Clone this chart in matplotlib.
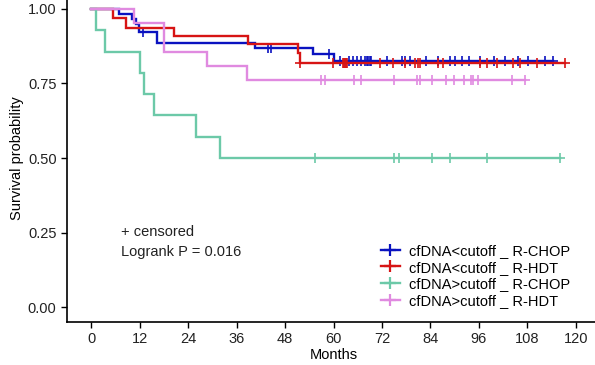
import numpy as np
import matplotlib
matplotlib.use("Agg")
import matplotlib.pyplot as plt
from matplotlib.lines import Line2D

plt.rcParams["font.family"] = ["Liberation Sans", "DejaVu Sans"]

# step curves: event times (months) and survival after each step
blue_t = [0, 6.9, 10.0, 11.0, 11.8, 16.3, 40.6, 55.0, 60.2, 114.4]
blue_s = [1.0, 0.983, 0.966, 0.948, 0.924, 0.885, 0.870, 0.848, 0.825, 0.825]
blue_cens = [12.8, 43.9, 44.4, 59.0, 61.5, 63.9, 64.9, 65.8, 66.8, 67.8, 68.3, 68.6, 69.0, 69.4,
             73.2, 76.9, 77.7, 79.0, 82.9, 86.0, 88.8, 90.1, 91.8, 93.6, 96.3, 99.8,
             102.5, 105.8, 108.2, 112.4, 114.4]

red_t = [0, 5.5, 8.7, 20.4, 38.8, 51.2, 51.7, 117.3]
red_s = [1.0, 0.969, 0.937, 0.909, 0.881, 0.851, 0.819, 0.819]
red_cens = [51.7, 59.8, 62.4, 62.7, 62.9, 63.2, 63.4, 71.4, 74.8, 77.7, 80.2, 80.9, 81.4,
            86.0, 87.2, 96.3, 97.9, 100.4, 104.5, 106.2, 110.3, 117.3]

green_t = [0, 1.2, 3.5, 12.1, 13.0, 15.6, 26.0, 32.0, 116.1]
green_s = [1.0, 0.929, 0.857, 0.786, 0.714, 0.643, 0.571, 0.500, 0.500]
green_cens = [55.3, 75.1, 76.1, 84.5, 88.9, 97.9, 116.1]

pink_t = [0, 10.5, 18.0, 28.6, 38.5, 107.5]
pink_s = [1.0, 0.952, 0.857, 0.810, 0.762, 0.762]
pink_cens = [56.9, 57.8, 65.0, 66.8, 75.0, 80.7, 81.4, 84.5, 87.9, 89.9, 92.3, 94.1,
             94.6, 95.7, 104.2, 107.4]

labels = ["cfDNA<cutoff _ R-CHOP", "cfDNA<cutoff _ R-HDT",
          "cfDNA>cutoff _ R-CHOP", "cfDNA>cutoff _ R-HDT"]
colors = ["#0A12C0", "#D71414", "#6CC9A8", "#E08AE0"]

x_ticks = [0, 12, 24, 36, 48, 60, 72, 84, 96, 108, 120]
y_ticks = [0.0, 0.25, 0.5, 0.75, 1.0]

fig = plt.figure(figsize=(5.95, 3.65), dpi=100)
ax = fig.add_axes([67 / 595, 43 / 365, 533 / 595, 328 / 365])

curves = [(blue_t, blue_s, blue_cens), (red_t, red_s, red_cens),
          (green_t, green_s, green_cens), (pink_t, pink_s, pink_cens)]

for (t, s, cens), col in zip(curves, colors):
    ax.step(t, s, where="post", color=col, lw=1.7, solid_joinstyle="miter")
    idx = np.searchsorted(t, cens, side="right") - 1
    cy = np.array(s)[idx]
    ax.plot(cens, cy, ls="none", marker="+", ms=7, mew=1.2, color=col)

ax.set_xlim(-6, 126)
ax.set_ylim(-0.05, 1.05)
ax.set_xticks(x_ticks)
ax.set_yticks(y_ticks)
ax.set_yticklabels([f"{v:.2f}" for v in y_ticks])
ax.tick_params(labelsize=10.5, length=4, width=1, colors="black", labelcolor="#222222")
for side in ["top", "right"]:
    ax.spines[side].set_visible(False)
for side in ["left", "bottom"]:
    ax.spines[side].set_linewidth(1.2)
ax.set_xlabel("Months", fontsize=10.5, labelpad=1)
ax.set_ylabel("Survival probability", fontsize=10.5)
ax.yaxis.set_label_coords(-0.081, 0.5)

fig.text(121 / 595, 1 - 232 / 365, "+ censored", fontsize=10.5, va="center", color="#222222")
fig.text(121 / 595, 1 - 252 / 365, "Logrank P = 0.016", fontsize=10.5, va="center", color="#222222")

handles = [Line2D([0], [0], color=c, lw=1.7, marker="+", ms=9, mew=1.6) for c in colors]
ax.legend(handles, labels, loc="center left", bbox_to_anchor=(381 / 595, 1 - 276 / 365),
          bbox_transform=fig.transFigure, frameon=False, fontsize=10.5, borderpad=0,
          borderaxespad=0, handlelength=1.3, handletextpad=0.6, labelspacing=0.2)

fig.savefig("out.png", dpi=100)
